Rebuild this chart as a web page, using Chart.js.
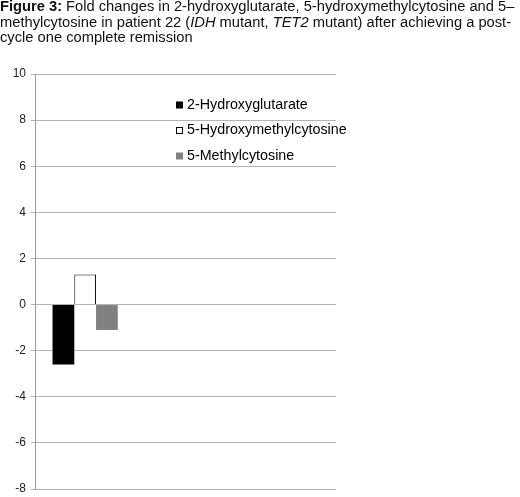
<!DOCTYPE html>
<html>
<head>
<meta charset="utf-8">
<script src="https://cdn.jsdelivr.net/npm/chart.js@4/dist/chart.umd.min.js"></script>
<style>
  html, body { margin: 0; padding: 0; background: #fff; }
  #wrap { position: relative; width: 520px; height: 497px; }
  #caption {
    position: absolute; left: 0; top: -1px; width: 520px;
    font-family: "Liberation Sans", Arial, sans-serif; font-size: 14.7px;
    line-height: 15.5px; color: #111; white-space: nowrap;
  }
  #caption b { font-weight: bold; }
  canvas { position: absolute; left: 0; top: 0; }
</style>
</head>
<body>
<div id="wrap">
  <canvas id="c" width="520" height="497"></canvas>
  <div id="caption"><b>Figure 3:</b> Fold changes in 2-hydroxyglutarate, 5-hydroxymethylcytosine and 5&ndash;<br>methylcytosine in patient 22 (<i>IDH</i> mutant, <i>TET2</i> mutant) after achieving a post-<br>cycle one complete remission</div>
</div>
<script>
// Categories on the x axis (only the first one carries measurements)
const categories = ['Patient 22', '', ''];

// Fold change per marker
const hydroxyglutarate = [-2.6, null, null];
const hydroxymethylcytosine = [1.3, null, null];
const methylcytosine = [-1.1, null, null];

const seriesNames = ['2-Hydroxyglutarate', '5-Hydroxymethylcytosine', '5-Methylcytosine'];

// Y axis range and step
const yMin = -8;
const yMax = 10;
const yStep = 2;

// Legend drawn inside the plot area, stacked at the upper middle
const innerLegend = {
  id: 'innerLegend',
  afterDatasetsDraw(chart) {
    const { ctx, chartArea } = chart;
    const x = chartArea.left + 141;
    const y0 = chartArea.top + 31;
    const rowGap = 25.5;
    ctx.save();
    ctx.font = '14.3px "Liberation Sans", Arial, sans-serif';
    ctx.textBaseline = 'middle';
    chart.data.datasets.forEach((ds, i) => {
      const y = y0 + i * rowGap;
      ctx.fillStyle = ds.backgroundColor;
      ctx.fillRect(x, y - 3.5, 7, 7);
      if (ds.borderWidth) {
        ctx.strokeStyle = ds.borderColor;
        ctx.lineWidth = 1;
        ctx.strokeRect(x + 0.5, y - 3, 6, 6);
      }
      ctx.fillStyle = '#000';
      ctx.fillText(ds.label, x + 11, y);
    });
    ctx.restore();
  }
};

new Chart(document.getElementById('c'), {
  type: 'bar',
  data: {
    labels: categories,
    datasets: [
      { label: seriesNames[0], data: hydroxyglutarate, backgroundColor: '#000000', borderWidth: 0 },
      { label: seriesNames[1], data: hydroxymethylcytosine, backgroundColor: '#ffffff', borderColor: '#000000', borderWidth: 1 },
      { label: seriesNames[2], data: methylcytosine, backgroundColor: '#808080', borderWidth: 0 }
    ]
  },
  options: {
    responsive: false,
    animation: false,
    layout: { padding: { top: 74, left: 0, right: 184, bottom: 8 } },
    datasets: { bar: { categoryPercentage: 0.65, barPercentage: 1.0, skipNull: false } },
    plugins: { legend: { display: false }, tooltip: { enabled: false } },
    scales: {
      x: { display: false },
      y: {
        min: yMin, max: yMax,
        afterFit(scale) {
          scale.width = 35;
          scale.paddingTop = 0;
          scale.paddingBottom = 0;
        },
        ticks: {
          stepSize: yStep, padding: 5, color: '#222',
          font: { family: '"Liberation Sans", Arial, sans-serif', size: 12 }
        },
        grid: { color: '#b3b3b3', lineWidth: 1, tickLength: 4, drawTicks: true },
        border: { display: true, color: '#9a9a9a', width: 1 }
      }
    }
  },
  plugins: [innerLegend]
});
</script>
</body>
</html>
